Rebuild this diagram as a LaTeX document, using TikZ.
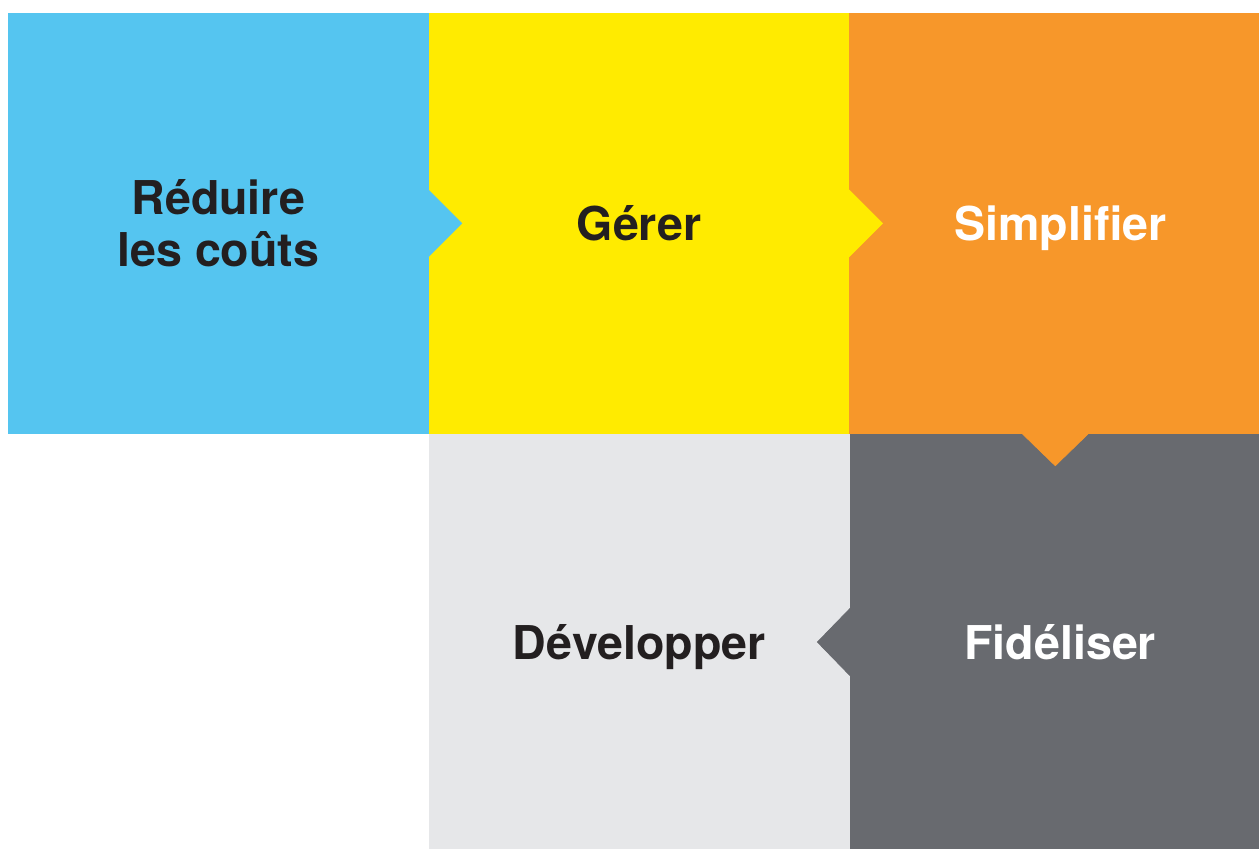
\documentclass[tikz,border=0pt]{standalone}
\usepackage{fontspec}
\setmainfont{TeX Gyre Heros}
\usetikzlibrary{positioning, calc}
\definecolor{bleu}{HTML}{55C5F0}
\definecolor{jaune}{HTML}{FFEB00}
\definecolor{orangec}{HTML}{F7972A}
\definecolor{grisfonce}{HTML}{686A6F}
\definecolor{grisclair}{HTML}{E6E7E9}
\definecolor{texte}{HTML}{231F20}

\begin{document}
\begin{tikzpicture} [block/.style = {rectangle, inner sep = 0pt, minimum width = 8.4cm, minimum height = 8.4cm, align = center, text = texte, font = \fontsize{26.5}{29.5}\selectfont\bfseries}, node distance = 0cm]

\useasboundingbox (0,0) rectangle (25.18,-16.98);

\node [block, fill = bleu, draw = bleu, anchor = north west] (reduire) at (0.16,-0.26) {Réduire\\les coûts};
\node [block, fill = jaune, draw = jaune] (gerer) [right = 0cm of reduire] {Gérer};
\node [block, fill = orangec, draw = orangec, text = white, text depth = 0pt, minimum width = 8.22cm] (simplifier) [right = 0cm of gerer] {\hspace*{0.2cm}Simplifier};
\node [block, fill = grisfonce, draw = grisfonce, text = white, minimum width = 8.22cm, minimum height = 8.32cm] (fideliser) [below = 0cm of simplifier] {\hspace*{0.2cm}Fidéliser};
\node [block, fill = grisclair, draw = grisclair, text depth = 0pt, minimum height = 8.32cm] (developper) [left = 0cm of fideliser] {Développer};

% pointes
\filldraw [bleu] ($(reduire.east)+(0,0.66)$) -- ++(0.66,-0.66) -- ++(-0.66,-0.66) -- cycle;
\filldraw [jaune] ($(gerer.east)+(0,0.66)$) -- ++(0.66,-0.66) -- ++(-0.66,-0.66) -- cycle;
\filldraw [orangec] ($(simplifier.south)+(-0.66,0)$) -- ++(0.66,-0.64) -- ++(0.66,0.64) -- cycle;
\filldraw [grisfonce] ($(fideliser.west)+(0,0.66)$) -- ++(-0.64,-0.66) -- ++(0.64,-0.66) -- cycle;

\end{tikzpicture}
\end{document}
